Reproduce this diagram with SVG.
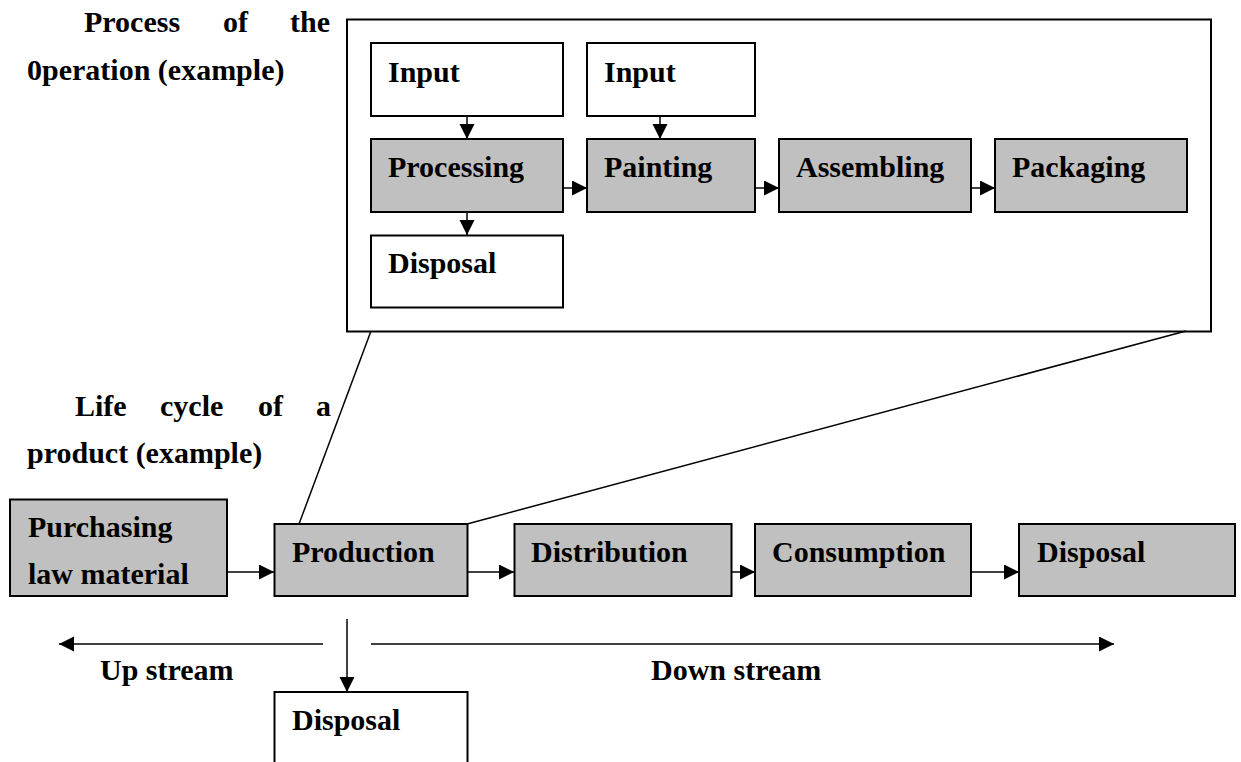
<svg xmlns="http://www.w3.org/2000/svg" width="1241" height="762" viewBox="0 0 1241 762">
  <style>
    text { font-family: "Liberation Serif", "Times New Roman", serif; font-weight: bold; font-size: 30px; fill: #000; }
    .box { fill: #fff; stroke: #000; stroke-width: 2; }
    .grey { fill: #c0c0c0; stroke: #000; stroke-width: 2; }
    .frame { fill: #fff; stroke: #000; stroke-width: 2; }
    .line { fill: none; stroke: #000; stroke-width: 1.5; }
    .arrow { fill: none; stroke: #000; stroke-width: 1.5; marker-end: url(#head); }
  </style>
  <defs>
    <marker id="head" markerUnits="userSpaceOnUse" markerWidth="16" markerHeight="16" refX="15" refY="7.5" orient="auto">
      <path d="M0,0 L15,7.5 L0,15 Z" fill="#000"/>
    </marker>
  </defs>
  <rect width="1241" height="762" fill="#fff"/>

  <!-- operation frame (drawn first so the inner arrows sit on top of it) -->
  <g id="operation-frame">
    <rect class="frame" x="347" y="19.5" width="864" height="312"/>
  </g>

  <!-- headings -->
  <g id="heading-process">
    <text x="84" y="32">Process</text>
    <text x="223" y="32">of</text>
    <text x="290" y="32">the</text>
    <text x="27" y="80">0peration (example)</text>
  </g>
  <g id="heading-lifecycle">
    <text x="75" y="416">Life</text>
    <text x="160" y="416">cycle</text>
    <text x="258" y="416">of</text>
    <text x="316" y="416">a</text>
    <text x="27" y="463">product (example)</text>
  </g>

  <g id="connectors">
    <!-- zoom-out lines from Production to the operation frame -->
    <line class="line" x1="299" y1="524" x2="371" y2="331"/>
    <line class="line" x1="467" y1="524" x2="1186" y2="331"/>

    <!-- operation flow -->
    <line class="arrow" x1="467" y1="116" x2="467" y2="139"/>
    <line class="arrow" x1="660" y1="116" x2="660" y2="139"/>
    <line class="arrow" x1="467" y1="212" x2="467" y2="235"/>
    <line class="arrow" x1="563" y1="188" x2="587" y2="188"/>
    <line class="arrow" x1="755" y1="188" x2="779" y2="188"/>
    <line class="arrow" x1="971" y1="188" x2="995" y2="188"/>

    <!-- life cycle flow -->
    <line class="arrow" x1="227" y1="572" x2="274" y2="572"/>
    <line class="arrow" x1="467" y1="572" x2="514" y2="572"/>
    <line class="arrow" x1="731" y1="572" x2="755" y2="572"/>
    <line class="arrow" x1="971" y1="572" x2="1019" y2="572"/>
    <line class="arrow" x1="347" y1="619" x2="347" y2="692"/>

    <!-- stream direction -->
    <line class="arrow" x1="323" y1="644" x2="59" y2="644"/>
    <line class="arrow" x1="371" y1="644" x2="1114" y2="644"/>
  </g>

  <g id="op-input-1">
    <rect class="box" x="371" y="43" width="192" height="73"/>
    <text x="388" y="82">Input</text>
  </g>
  <g id="op-input-2">
    <rect class="box" x="587" y="43" width="168" height="73"/>
    <text x="604" y="82">Input</text>
  </g>
  <g id="op-processing">
    <rect class="grey" x="371" y="139" width="192" height="73"/>
    <text x="388" y="177">Processing</text>
  </g>
  <g id="op-painting">
    <rect class="grey" x="587" y="139" width="168" height="73"/>
    <text x="604" y="177">Painting</text>
  </g>
  <g id="op-assembling">
    <rect class="grey" x="779" y="139" width="192" height="73"/>
    <text x="796" y="177">Assembling</text>
  </g>
  <g id="op-packaging">
    <rect class="grey" x="995" y="139" width="192" height="73"/>
    <text x="1012" y="177">Packaging</text>
  </g>
  <g id="op-disposal">
    <rect class="box" x="371" y="235.5" width="192" height="72"/>
    <text x="388" y="273">Disposal</text>
  </g>

  <!-- life cycle stages -->
  <g id="lc-purchasing">
    <rect class="grey" x="10" y="499.5" width="217" height="96.5"/>
    <text x="28" y="537">Purchasing</text>
    <text x="28" y="584">law material</text>
  </g>
  <g id="lc-production">
    <rect class="grey" x="274.5" y="524" width="193" height="72"/>
    <text x="292" y="562">Production</text>
  </g>
  <g id="lc-distribution">
    <rect class="grey" x="514.5" y="524" width="217" height="72"/>
    <text x="531" y="562">Distribution</text>
  </g>
  <g id="lc-consumption">
    <rect class="grey" x="755" y="524" width="216" height="72"/>
    <text x="772" y="562">Consumption</text>
  </g>
  <g id="lc-disposal">
    <rect class="grey" x="1019" y="524" width="216" height="72"/>
    <text x="1037" y="562">Disposal</text>
  </g>
  <g id="lc-waste">
    <rect class="box" x="274.5" y="692" width="193" height="90"/>
    <text x="292" y="730">Disposal</text>
  </g>

  <!-- stream labels -->
  <g id="label-upstream">
    <text x="100" y="680">Up stream</text>
  </g>
  <g id="label-downstream">
    <text x="651" y="680">Down stream</text>
  </g>
</svg>
